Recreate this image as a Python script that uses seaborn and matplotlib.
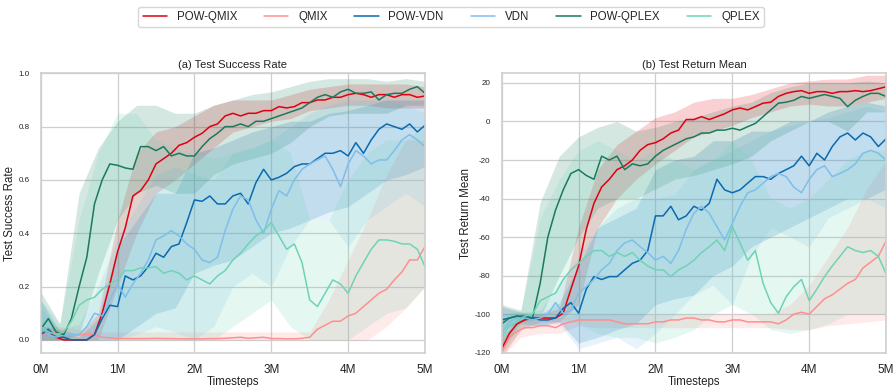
import numpy as np
import pandas as pd
import seaborn as sns
import matplotlib
matplotlib.use("Agg")
import matplotlib.pyplot as plt
from matplotlib.ticker import FixedLocator, FixedFormatter

# ---------------- data ----------------
methods = ["POW-QMIX", "QMIX", "POW-VDN", "VDN", "POW-QPLEX", "QPLEX"]
colors = ["#e0000f", "#ff8f8f", "#0a6ab0", "#7ebfea", "#1a7a5e", "#6fd3b5"]

t_mean = [round(0.1 * i, 1) for i in range(51)]          # millions of timesteps
t_band = [round(0.25 * i, 2) for i in range(21)]

# (a) Test Success Rate - mean curves
sr_pow_qmix = [0.02, 0.03, 0.01, 0.0, 0.0, 0.0, 0.0, 0.02, 0.10, 0.21, 0.33, 0.42, 0.54, 0.56, 0.60, 0.66, 0.68,
               0.70, 0.73, 0.74, 0.76, 0.775, 0.80, 0.81, 0.84, 0.85, 0.84, 0.85, 0.85, 0.86, 0.86, 0.875, 0.87,
               0.875, 0.89, 0.89, 0.90, 0.90, 0.91, 0.91, 0.92, 0.925, 0.92, 0.91, 0.92, 0.92, 0.91, 0.92, 0.92,
               0.91, 0.915]
sr_qmix = [0.02, 0.025, 0.03, 0.02, 0.02, 0.02, 0.02, 0.02, 0.01, 0.008, 0.005, 0.005, 0.005, 0.005, 0.005,
           0.006, 0.005, 0.005, 0.004, 0.004, 0.004, 0.004, 0.005, 0.005, 0.006, 0.008, 0.01, 0.006, 0.008, 0.01,
           0.005, 0.005, 0.004, 0.004, 0.006, 0.01, 0.04, 0.055, 0.07, 0.07, 0.09, 0.10, 0.125, 0.15, 0.175, 0.19,
           0.225, 0.255, 0.30, 0.30, 0.35]
sr_pow_vdn = [0.02, 0.04, 0.01, 0.01, 0.0, 0.0, 0.0, 0.02, 0.08, 0.13, 0.125, 0.24, 0.225, 0.24, 0.275, 0.325, 0.31,
              0.35, 0.36, 0.44, 0.525, 0.52, 0.54, 0.51, 0.51, 0.54, 0.55, 0.51, 0.59, 0.64, 0.60, 0.61, 0.625,
              0.65, 0.66, 0.66, 0.68, 0.70, 0.70, 0.71, 0.69, 0.74, 0.70, 0.75, 0.79, 0.81, 0.80, 0.79, 0.81, 0.78,
              0.805]
sr_vdn = [0.05, 0.02, 0.01, 0.02, 0.02, 0.02, 0.05, 0.10, 0.09, 0.15, 0.21, 0.16, 0.21, 0.25, 0.30, 0.375, 0.39,
          0.41, 0.39, 0.36, 0.34, 0.30, 0.29, 0.31, 0.41, 0.49, 0.54, 0.525, 0.45, 0.40, 0.49, 0.56, 0.54, 0.60,
          0.64, 0.66, 0.675, 0.69, 0.64, 0.575, 0.66, 0.71, 0.69, 0.66, 0.675, 0.675, 0.71, 0.75, 0.77, 0.75, 0.725]
sr_pow_qplex = [0.04, 0.08, 0.03, 0.02, 0.08, 0.20, 0.31, 0.51, 0.60, 0.66, 0.655, 0.645, 0.64, 0.725, 0.725, 0.71,
                0.725, 0.69, 0.70, 0.69, 0.69, 0.725, 0.755, 0.775, 0.80, 0.80, 0.81, 0.80, 0.82, 0.82, 0.83, 0.84,
                0.85, 0.86, 0.87, 0.89, 0.91, 0.92, 0.91, 0.93, 0.94, 0.925, 0.925, 0.93, 0.90, 0.92, 0.925, 0.925,
                0.94, 0.95, 0.925]
sr_qplex = [0.05, 0.03, 0.02, 0.03, 0.07, 0.13, 0.15, 0.16, 0.19, 0.21, 0.225, 0.26, 0.26, 0.27, 0.27, 0.275, 0.25,
            0.26, 0.25, 0.225, 0.24, 0.225, 0.21, 0.24, 0.26, 0.30, 0.325, 0.36, 0.39, 0.41, 0.44, 0.39, 0.34, 0.36,
            0.29, 0.15, 0.125, 0.175, 0.225, 0.21, 0.175, 0.24, 0.29, 0.34, 0.375, 0.375, 0.37, 0.36, 0.36, 0.34,
            0.275]

# (a) bands (lower, upper) on t_band
sr_pow_qmix_lo = [0.0, 0.0, 0.0, 0.0, 0.20, 0.40, 0.55, 0.60, 0.66, 0.72, 0.78, 0.80, 0.82, 0.83, 0.86, 0.87, 0.88,
                  0.88, 0.87, 0.87, 0.87]
sr_pow_qmix_hi = [0.05, 0.04, 0.02, 0.10, 0.45, 0.70, 0.78, 0.80, 0.84, 0.88, 0.90, 0.90, 0.90, 0.92, 0.94, 0.95,
                  0.96, 0.96, 0.96, 0.96, 0.95]
sr_qmix_lo = [0.0] * 16 + [0.0, 0.0, 0.05, 0.12, 0.20]
sr_qmix_hi = [0.05, 0.05, 0.04, 0.03, 0.03, 0.03, 0.03, 0.03, 0.03, 0.03, 0.03, 0.03, 0.03, 0.03, 0.03, 0.15, 0.30,
              0.45, 0.62, 0.75, 0.75]
sr_pow_vdn_lo = [0.0, 0.0, 0.0, 0.0, 0.0, 0.05, 0.10, 0.12, 0.25, 0.28, 0.30, 0.35, 0.40, 0.42, 0.45, 0.48, 0.50,
                 0.55, 0.60, 0.62, 0.65]
sr_pow_vdn_hi = [0.15, 0.03, 0.01, 0.08, 0.35, 0.45, 0.55, 0.55, 0.70, 0.72, 0.75, 0.78, 0.80, 0.82, 0.82, 0.85,
                 0.86, 0.88, 0.90, 0.90, 0.90]
sr_vdn_lo = [0.0, 0.0, 0.0, 0.0, 0.0, 0.02, 0.05, 0.03, 0.0, 0.05, 0.20, 0.25, 0.20, 0.35, 0.45, 0.45, 0.35, 0.45,
             0.50, 0.55, 0.50]
sr_vdn_hi = [0.12, 0.04, 0.06, 0.20, 0.38, 0.50, 0.62, 0.65, 0.62, 0.60, 0.70, 0.72, 0.75, 0.80, 0.85, 0.88, 0.90,
             0.90, 0.90, 0.88, 0.85]
sr_pow_qplex_lo = [0.0, 0.0, 0.02, 0.25, 0.45, 0.55, 0.58, 0.55, 0.55, 0.62, 0.66, 0.68, 0.70, 0.74, 0.80, 0.84,
                   0.85, 0.85, 0.85, 0.88, 0.88]
sr_pow_qplex_hi = [0.18, 0.06, 0.55, 0.72, 0.82, 0.88, 0.88, 0.85, 0.85, 0.88, 0.90, 0.92, 0.93, 0.95, 0.97, 0.98,
                   0.98, 0.98, 0.97, 0.98, 0.97]
sr_qplex_lo = [0.0, 0.0, 0.0, 0.0, 0.0, 0.0, 0.0, 0.0, 0.0, 0.0, 0.05, 0.10, 0.15, 0.05, 0.0, 0.0, 0.0, 0.05, 0.10,
               0.12, 0.20]
sr_qplex_hi = [0.15, 0.06, 0.45, 0.70, 0.85, 0.85, 0.75, 0.72, 0.70, 0.68, 0.70, 0.72, 0.75, 0.70, 0.45, 0.45, 0.60,
               0.70, 0.75, 0.75, 0.80]

# (b) Test Return Mean - mean curves
rm_pow_qmix = [-118, -110, -105, -103, -102, -102, -102, -102, -99.5, -87, -75, -56, -42.5, -34, -30, -25, -23, -20,
               -15, -12, -11, -9, -6, -4.5, 1, 1, 2.5, 1, 2.5, 4, 6, 7, 6, 7.7, 9.5, 10, 13, 14.6, 15.5, 16, 14.6,
               15.5, 15.5, 14.6, 15.5, 15.5, 16, 15.5, 16, 17, 18]
rm_qmix = [-120, -112, -109, -107, -107, -106, -106, -107, -105, -104, -103, -103, -103, -103, -103, -104, -105,
           -105, -105, -105, -104, -104, -103, -103, -102, -102, -103, -103, -104, -104, -103, -103, -104, -104,
           -104, -104, -105, -103, -100, -99, -100, -96, -92, -90, -87, -84, -82, -76, -73, -70, -62]
rm_pow_vdn = [-103, -102, -101, -102, -102, -103, -103, -102, -97, -94, -99.5, -87, -80.5, -82, -80.5, -80.5, -77,
              -73.6, -72, -67, -49, -49, -44, -51, -49, -44, -46, -42.5, -30, -35.5, -37, -35.5, -32, -28.6, -28.6,
              -30, -27, -25, -23, -18, -23, -16.5, -20, -13, -8, -6, -9.6, -6, -8, -13, -9]
rm_vdn = [-110, -104, -102, -102, -103, -102, -100, -94, -99.5, -98, -89, -85.7, -82, -77, -73.6, -67, -63, -61.5,
          -65, -68, -72, -70, -73.6, -67, -56, -47.6, -44, -47.6, -54.6, -61.5, -53, -44, -37, -35.5, -32, -28.6,
          -27, -28.6, -34, -37, -30, -25, -23, -28.6, -27, -25, -22, -16.5, -15, -16.5, -20]
rm_pow_qplex = [-105, -102, -101, -101, -102, -84, -60, -46, -35.5, -27, -25, -28, -30, -18, -20, -18, -25, -22, -23,
                -22, -18, -15, -13, -11, -9, -8, -6, -6, -4.5, -4.5, -3.5, -4.5, -2.7, -1, 2.5, 6, 9.5, 10, 11, 13,
                12, 13, 14, 13, 12, 7.7, 11, 13, 14.6, 14.6, 13]
rm_qplex = [-112, -106, -104, -101, -100, -93, -91, -89, -82, -77, -73.6, -70, -67, -67, -70, -68, -70, -68, -72,
            -75, -77, -77, -80.5, -77, -75, -72, -68, -65, -61.5, -67, -54.6, -63, -72, -67, -84, -94, -99.5, -91,
            -85.7, -82, -93, -87, -80.5, -75, -70, -65, -67, -68, -67, -70, -79]

# (b) bands (lower, upper) on t_band
rm_pow_qmix_lo = [-122, -108, -104, -104, -95, -55, -40, -30, -22, -15, -8, -5, -2, 2, 5, 8, 9, 8, 8, 10, 12]
rm_pow_qmix_hi = [-112, -100, -100, -97, -55, -25, -12, -5, 2, 5, 10, 12, 12, 14, 17, 20, 21, 22, 22, 24, 24]
rm_qmix_lo = [-122, -112, -110, -110, -106, -107, -107, -107, -107, -107, -107, -107, -107, -107, -107, -108, -108,
              -106, -105, -104, -103]
rm_qmix_hi = [-115, -104, -102, -102, -100, -100, -100, -100, -100, -100, -100, -100, -100, -100, -100, -95, -85,
              -70, -55, -35, -20]
rm_pow_vdn_lo = [-108, -105, -106, -104, -115, -112, -108, -105, -95, -92, -90, -80, -75, -65, -60, -55, -50, -45,
                 -40, -40, -35]
rm_pow_vdn_hi = [-96, -99, -100, -94, -75, -55, -50, -45, -25, -20, -18, -10, -10, -5, -5, 0, 0, 5, 8, 10, 8]
rm_vdn_lo = [-118, -106, -106, -105, -118, -115, -112, -118, -110, -100, -90, -85, -95, -70, -55, -60, -65, -50,
             -45, -40, -45]
rm_vdn_hi = [-100, -99, -98, -85, -70, -55, -45, -40, -40, -38, -25, -20, -15, -10, -5, -2, 0, 2, 5, 8, 5]
rm_pow_qplex_lo = [-118, -104, -102, -80, -60, -45, -40, -40, -35, -30, -28, -25, -22, -18, -10, -5, 0, 0, -5, 5, 5]
rm_pow_qplex_hi = [-95, -98, -42, -18, -8, -3, 0, -5, -3, 0, 2, 5, 8, 10, 15, 18, 20, 20, 20, 21, 20]
rm_qplex_lo = [-120, -108, -105, -102, -105, -110, -112, -112, -115, -112, -108, -100, -95, -100, -108, -110, -108,
               -105, -100, -100, -100]
rm_qplex_hi = [-100, -98, -50, -30, -15, -10, -15, -20, -15, -20, -25, -20, -10, -20, -40, -45, -40, -30, -20, -15,
               -15]

xtick_vals = [0, 1, 2, 3, 4, 5]
xtick_labels = ["0M", "1M", "2M", "3M", "4M", "5M"]
sr_ticks = [0.0, 0.2, 0.4, 0.6, 0.8, 1.0]
rm_ticks = [-120, -100, -80, -60, -40, -20, 0, 20]

panels = [
    dict(title="(a) Test Success Rate", ylabel="Test Success Rate", ylim=(-0.048, 1.0), yticks=sr_ticks,
         fmt="{:.1f}",
         means=[sr_pow_qmix, sr_qmix, sr_pow_vdn, sr_vdn, sr_pow_qplex, sr_qplex],
         los=[sr_pow_qmix_lo, sr_qmix_lo, sr_pow_vdn_lo, sr_vdn_lo, sr_pow_qplex_lo, sr_qplex_lo],
         his=[sr_pow_qmix_hi, sr_qmix_hi, sr_pow_vdn_hi, sr_vdn_hi, sr_pow_qplex_hi, sr_qplex_hi]),
    dict(title="(b) Test Return Mean", ylabel="Test Return Mean", ylim=(-120, 25), yticks=rm_ticks,
         fmt="{:d}",
         means=[rm_pow_qmix, rm_qmix, rm_pow_vdn, rm_vdn, rm_pow_qplex, rm_qplex],
         los=[rm_pow_qmix_lo, rm_qmix_lo, rm_pow_vdn_lo, rm_vdn_lo, rm_pow_qplex_lo, rm_qplex_lo],
         his=[rm_pow_qmix_hi, rm_qmix_hi, rm_pow_vdn_hi, rm_vdn_hi, rm_pow_qplex_hi, rm_qplex_hi]),
]

# ---------------- plot ----------------
sns.set_theme(style="whitegrid")
plt.rcParams["font.family"] = ["Liberation Sans", "DejaVu Sans"]

fig = plt.figure(figsize=(8.94, 3.87), dpi=100)
axes = [fig.add_axes([0.0455, 0.0886, 0.4299, 0.7220]),
        fig.add_axes([0.5612, 0.0886, 0.4299, 0.7220])]

for ax, p in zip(axes, panels):
    for m, c, mean, lo, hi in zip(methods, colors, p["means"], p["los"], p["his"]):
        ax.fill_between(t_band, lo, hi, color=c, alpha=0.18, linewidth=0)
    for m, c, mean in zip(methods, colors, p["means"]):
        df = pd.DataFrame({"t": t_mean, "v": mean})
        sns.lineplot(data=df, x="t", y="v", ax=ax, color=c, linewidth=1.1, label=m, legend=False)
    ax.set_xlim(0, 5)
    ax.set_ylim(*p["ylim"])
    ax.xaxis.set_major_locator(FixedLocator(xtick_vals))
    ax.xaxis.set_major_formatter(FixedFormatter(xtick_labels))
    ax.yaxis.set_major_locator(FixedLocator(p["yticks"]))
    ax.yaxis.set_major_formatter(FixedFormatter([p["fmt"].format(v) for v in p["yticks"]]))
    ax.tick_params(axis="x", labelsize=8.5, pad=2, colors="#222222")
    ax.tick_params(axis="y", labelsize=5.8, pad=2, colors="#222222")
    ax.set_title(p["title"], fontsize=8.0, pad=4, color="#222222")
    ax.set_xlabel("Timesteps", fontsize=8.3, labelpad=0, color="#222222")
    ax.set_ylabel(p["ylabel"], fontsize=8.3, labelpad=2, color="#222222")
    ax.grid(True, color="#cfcfcf", linewidth=0.9)
    for s in ax.spines.values():
        s.set_color("#cfcfcf")
        s.set_linewidth(1.2)

handles = axes[0].get_lines()[:len(methods)]
fig.legend(handles, methods, loc="upper center", bbox_to_anchor=(0.5045, 0.997), ncol=6, fontsize=8.3,
           frameon=True, handlelength=2.1, columnspacing=2.35, handletextpad=0.85, borderpad=0.35,
           edgecolor="#cccccc", fancybox=True)

fig.savefig("out.png", dpi=100)
